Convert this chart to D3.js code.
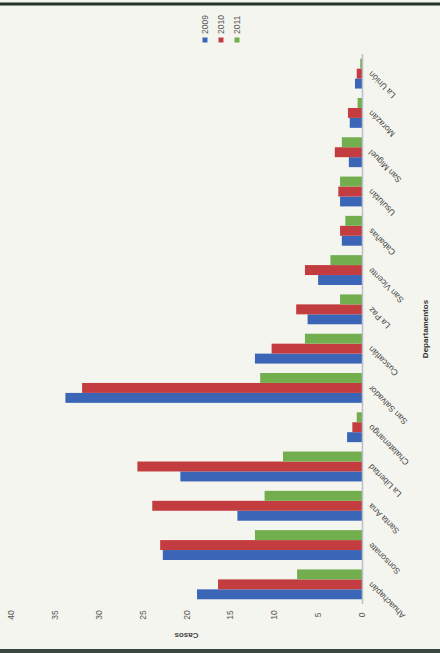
<!DOCTYPE html>
<html>
<head>
<meta charset="utf-8">
<script src="https://cdn.jsdelivr.net/npm/d3@7"></script>
<style>
  body { margin: 0; background: #f4f5ef; }
  svg { display: block; font-family: "Liberation Sans", Arial, sans-serif; }
</style>
</head>
<body>
<svg id="chart"></svg>
<script>
const width = 440;
const height = 653;

// departments, first one drawn at the bottom
const departments = ['Ahuachapán', 'Sonsonate', 'Santa Ana', 'La Libertad', 'Chalatenango',
  'San Salvador', 'Cuscatlán', 'La Paz', 'San Vicente', 'Cabañas', 'Usulután',
  'San Miguel', 'Morazán', 'La Unión'];
const seriesNames = ['2009', '2010', '2011'];
const values2009 = [18.8, 22.7, 14.2, 20.7, 1.7, 33.8, 12.2, 6.2, 5.0, 2.3, 2.5, 1.5, 1.4, 0.8];
const values2010 = [16.4, 23.0, 23.9, 25.6, 1.1, 31.9, 10.3, 7.5, 6.5, 2.5, 2.7, 3.1, 1.6, 0.6];
const values2011 = [7.4, 12.2, 11.1, 9.0, 0.6, 11.6, 6.5, 2.5, 3.6, 1.9, 2.5, 2.3, 0.5, 0.2];
const tickValues = [0, 5, 10, 15, 20, 25, 30, 35, 40];
const colors = ['#3b66b8', '#c23c40', '#72ad4e'];

const allSeries = [values2009, values2010, values2011];

const svg = d3.select('#chart')
  .attr('width', width)
  .attr('height', height);

svg.append('rect')
  .attr('width', width)
  .attr('height', height)
  .attr('fill', '#f4f5ef');

// value axis runs right to left (the photo is turned on its side)
const xScale = d3.scaleLinear()
  .domain([0, 40])
  .range([362, 11]);

// categories go bottom to top
const catScale = d3.scaleBand()
  .domain(departments)
  .range([604, 54])
  .paddingInner(0.24)
  .paddingOuter(0.12);

const seriesScale = d3.scaleBand()
  .domain(seriesNames)
  .range([catScale.bandwidth(), 0]);

const groups = svg.selectAll('.group')
  .data(departments)
  .enter()
  .append('g')
  .attr('class', 'group')
  .attr('transform', d => `translate(0, ${catScale(d)})`);

groups.selectAll('rect')
  .data((d, i) => allSeries.map((vals, j) => ({series: seriesNames[j], value: vals[i], color: colors[j]})))
  .enter()
  .append('rect')
  .attr('x', d => xScale(d.value))
  .attr('y', d => seriesScale(d.series))
  .attr('width', d => xScale(0) - xScale(d.value))
  .attr('height', seriesScale.bandwidth())
  .attr('fill', d => d.color);

// category axis line
svg.append('line')
  .attr('x1', xScale(0) + 0.5)
  .attr('x2', xScale(0) + 0.5)
  .attr('y1', catScale.range()[0])
  .attr('y2', catScale.range()[1])
  .attr('stroke', '#b8bfc8')
  .attr('stroke-width', 1.5);

// category labels, slanted
svg.selectAll('.catLabel')
  .data(departments)
  .enter()
  .append('text')
  .attr('class', 'catLabel')
  .attr('transform', d => `translate(${xScale(0) + 10}, ${catScale(d) + catScale.bandwidth() / 2 - 3}) rotate(-135)`)
  .attr('text-anchor', 'end')
  .attr('font-size', 8.5)
  .attr('fill', '#444')
  .text(d => d);

// value tick labels along the bottom
svg.selectAll('.tickLabel')
  .data(tickValues)
  .enter()
  .append('text')
  .attr('class', 'tickLabel')
  .attr('transform', d => `translate(${xScale(d) + 3}, 615) rotate(-90)`)
  .attr('text-anchor', 'middle')
  .attr('font-size', 8.5)
  .attr('fill', '#555')
  .text(d => d);

// value axis title (upside down)
svg.append('text')
  .attr('transform', `translate(${(xScale(0) + xScale(40)) / 2}, 633) rotate(180)`)
  .attr('text-anchor', 'middle')
  .attr('font-size', 8)
  .attr('font-weight', 'bold')
  .attr('fill', '#444')
  .text('Casos');

// category axis title
svg.append('text')
  .attr('transform', 'translate(428, 329) rotate(-90)')
  .attr('text-anchor', 'middle')
  .attr('font-size', 8)
  .attr('font-weight', 'bold')
  .attr('fill', '#333')
  .text('Departamentos');

// legend
const legend = svg.selectAll('.legendItem')
  .data(seriesNames)
  .enter()
  .append('g')
  .attr('class', 'legendItem')
  .attr('transform', (d, i) => `translate(${205 + i * 16}, 40)`);

legend.append('rect')
  .attr('x', -2.5)
  .attr('y', -2.5)
  .attr('width', 5)
  .attr('height', 5)
  .attr('fill', (d, i) => colors[i]);

legend.append('text')
  .attr('transform', 'translate(3, -6) rotate(-90)')
  .attr('font-size', 8.5)
  .attr('fill', '#555')
  .text(d => d);

// dark edges of the photo
svg.append('rect')
  .attr('x', 0).attr('y', 2.5)
  .attr('width', width).attr('height', 3)
  .attr('fill', '#25332a');
svg.append('rect')
  .attr('x', 0).attr('y', 649)
  .attr('width', width).attr('height', 4)
  .attr('fill', '#3a4640');
</script>
</body>
</html>
